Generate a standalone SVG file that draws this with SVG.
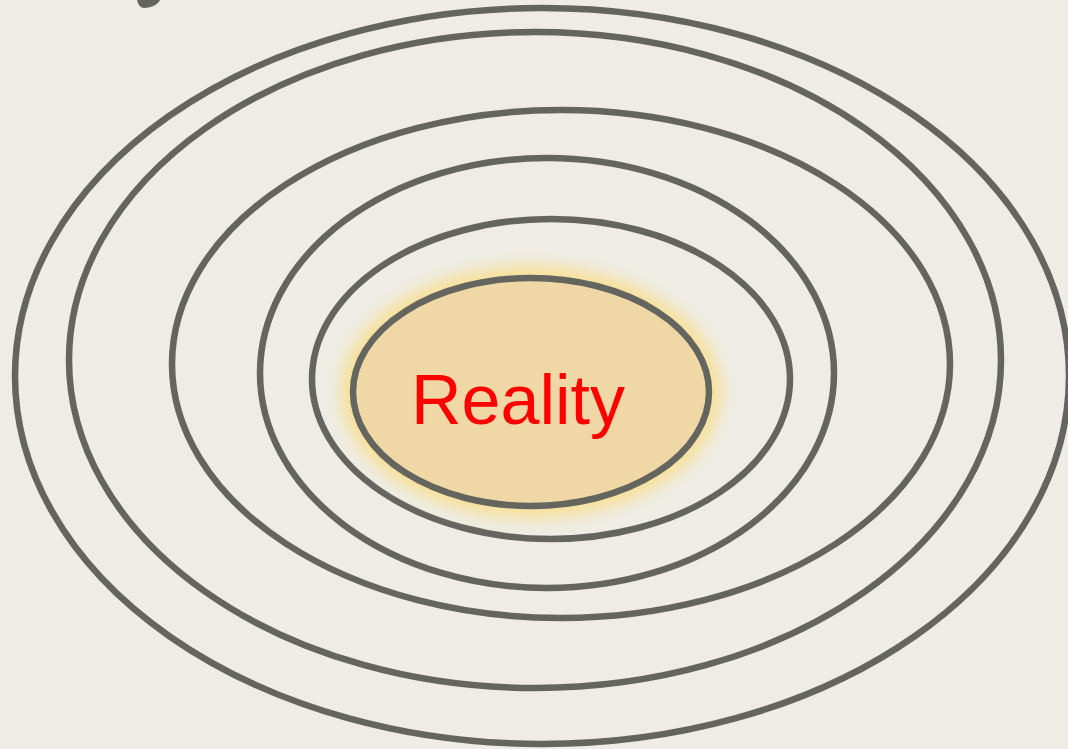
<svg xmlns="http://www.w3.org/2000/svg" width="1068" height="749" viewBox="0 0 1068 749">
<defs>
<style>
.ring{fill:none;stroke:#65655f;stroke-width:6.5}
.core{fill:#efd8a6;stroke:#65655f;stroke-width:6.5}
.label{font-family:"Liberation Sans",Arial,sans-serif;font-size:70px;fill:#ff0000}
</style>
<filter id="glow" x="-20%" y="-30%" width="140%" height="160%">
<feGaussianBlur stdDeviation="8"/>
</filter>
</defs>
<rect width="1068" height="749" fill="#eeece4"/>
<path d="M137,0 L160,0 C158,5 150,8 144,8 C140,8 138,4 137,0 Z" fill="#65655f"/>
<g id="ring1"><ellipse class="ring" cx="542" cy="376" rx="527" ry="368"/></g>
<g id="ring2"><ellipse class="ring" cx="535" cy="360" rx="466" ry="328"/></g>
<g id="ring3"><ellipse class="ring" cx="561" cy="364" rx="389" ry="254"/></g>
<g id="ring4"><ellipse class="ring" cx="547" cy="373" rx="287" ry="215"/></g>
<g id="ring5"><ellipse class="ring" cx="551" cy="379" rx="239" ry="160"/></g>
<g id="reality">
<ellipse cx="531" cy="392" rx="190" ry="126" fill="#f7e096" filter="url(#glow)"/>
<ellipse class="core" cx="531" cy="392" rx="178" ry="114"/>
<text class="label" x="411" y="424">Reality</text>
</g>
<g id="connectors"/>
</svg>
